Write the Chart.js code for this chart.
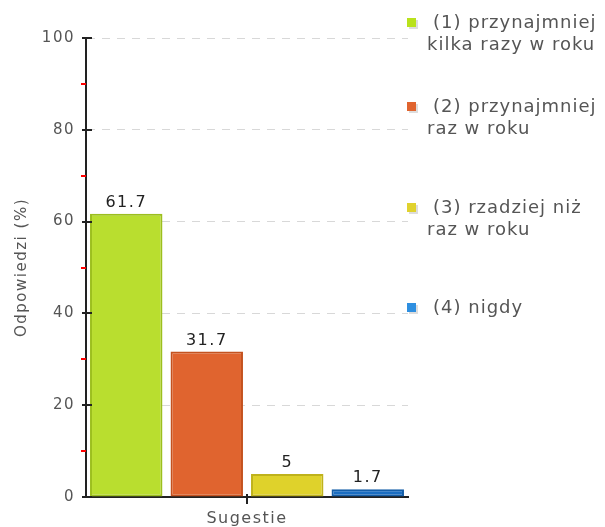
<!DOCTYPE html>
<html>
<head>
<meta charset="utf-8">
<script src="https://cdn.jsdelivr.net/npm/chart.js@4/dist/chart.umd.min.js"></script>
<style>
  html, body { margin: 0; padding: 0; background: #fff; }
  #wrap { width: 605px; height: 527px; }
</style>
</head>
<body>
<div id="wrap"><canvas id="grafico"></canvas></div>
<script>
const categorias = ['Sugestie'];
const etiquetasSeries = [
    ['(1) przynajmniej', 'kilka razy w roku'],
    ['(2) przynajmniej', 'raz w roku'],
    ['(3) rzadziej niż', 'raz w roku'],
    ['(4) nigdy']
];
const valores = [61.7, 31.7, 5, 1.7];
const ticksY = [0, 20, 40, 60, 80, 100];
const ticksMenores = [10, 30, 50, 70, 90];

const colores = ['#b9de2f', '#e0642f', '#dfd22b', '#1b6ec2'];
const bordes = ['#9cbf1e', '#c4521f', '#bfb21c', '#155ea8'];
const coloresLeyenda = ['#b9e21c', '#e0642f', '#e0d22e', '#2e8fe0'];
const FUENTE = '"DejaVu Sans", Verdana, sans-serif';

const espaciado = {
    id: 'espaciado',
    beforeLayout(chart) { chart.ctx.letterSpacing = '1.5px'; },
    beforeDraw(chart) { chart.ctx.letterSpacing = '1.5px'; }
};

// marcas de los ejes, etiquetas de valor y leyenda
const extras = {
    id: 'extras',
    afterDraw(chart) {
        const ctx = chart.ctx;
        const y = chart.scales.y;
        const x = chart.scales.x;
        const area = chart.chartArea;
        ctx.save();

        ctx.fillStyle = '#222';
        ticksY.forEach(v => {
            const py = Math.round(y.getPixelForValue(v));
            ctx.fillRect(area.left - 4, py - 1, 10, 2);
        });
        ctx.fillStyle = '#f00';
        ticksMenores.forEach(v => {
            const py = Math.round(y.getPixelForValue(v));
            ctx.fillRect(area.left - 5, py - 1, 5, 2);
        });
        ctx.fillStyle = '#222';
        const cx = Math.round(x.getPixelForValue(0));
        ctx.fillRect(cx - 1, area.bottom - 3, 2, 10);

        // valores sobre las barras
        ctx.letterSpacing = '1.5px';
        ctx.font = '16px ' + FUENTE;
        ctx.fillStyle = '#222';
        ctx.textAlign = 'center';
        ctx.textBaseline = 'bottom';
        chart.data.datasets.forEach((ds, i) => {
            const bar = chart.getDatasetMeta(i).data[0];
            ctx.fillText(String(ds.data[0]), bar.x, bar.y - 3);
        });

        // leyenda
        const posY = [23, 107, 208, 308];
        ctx.letterSpacing = '1px';
        ctx.font = '18px ' + FUENTE;
        ctx.textAlign = 'left';
        ctx.textBaseline = 'middle';
        etiquetasSeries.forEach((lineas, i) => {
            ctx.fillStyle = '#ddd';
            ctx.fillRect(409, posY[i] - 3, 9, 9);
            ctx.fillStyle = coloresLeyenda[i];
            ctx.fillRect(407, posY[i] - 5, 9, 9);
            ctx.fillStyle = '#555';
            lineas.forEach((t, j) => {
                ctx.fillText(t, j === 0 ? 433 : 427, posY[i] + j * 22);
            });
        });
        ctx.restore();
    }
};

new Chart(document.getElementById('grafico'), {
    type: 'bar',
    data: {
        labels: categorias,
        datasets: valores.map((v, i) => ({
            label: etiquetasSeries[i].join(' '),
            data: [v],
            backgroundColor: colores[i],
            borderColor: bordes[i],
            borderWidth: 2,
            borderSkipped: false,
            categoryPercentage: 1,
            barPercentage: 0.9
        }))
    },
    options: {
        responsive: true,
        maintainAspectRatio: false,
        animation: false,
        layout: { padding: { top: 38, right: 197, left: 0, bottom: 0 } },
        plugins: { legend: { display: false }, tooltip: { enabled: false } },
        scales: {
            x: {
                grid: { display: false, drawTicks: false },
                border: { display: true, color: '#222', width: 2 },
                ticks: { color: '#555', font: { family: FUENTE, size: 16 }, padding: 12 },
                afterFit(s) { s.height = 30; }
            },
            y: {
                min: 0,
                max: 100,
                afterBuildTicks(s) { s.ticks = ticksY.map(v => ({ value: v })); },
                grid: {
                    drawTicks: false,
                    color: ctx => ctx.tick.value === 0 ? 'rgba(0,0,0,0)' : '#d8d8d8',
                    lineWidth: 1
                },
                border: { display: true, color: '#222', width: 2, dash: [8, 7], dashOffset: 0 },
                ticks: { color: '#555', font: { family: FUENTE, size: 15 }, padding: 11 },
                title: {
                    display: true,
                    text: 'Odpowiedzi (%)',
                    color: '#555',
                    font: { family: FUENTE, size: 15 },
                    padding: { top: 13, bottom: 0 }
                },
                afterFit(s) { s.width = 86; }
            }
        }
    },
    plugins: [espaciado, extras]
});
</script>
</body>
</html>
